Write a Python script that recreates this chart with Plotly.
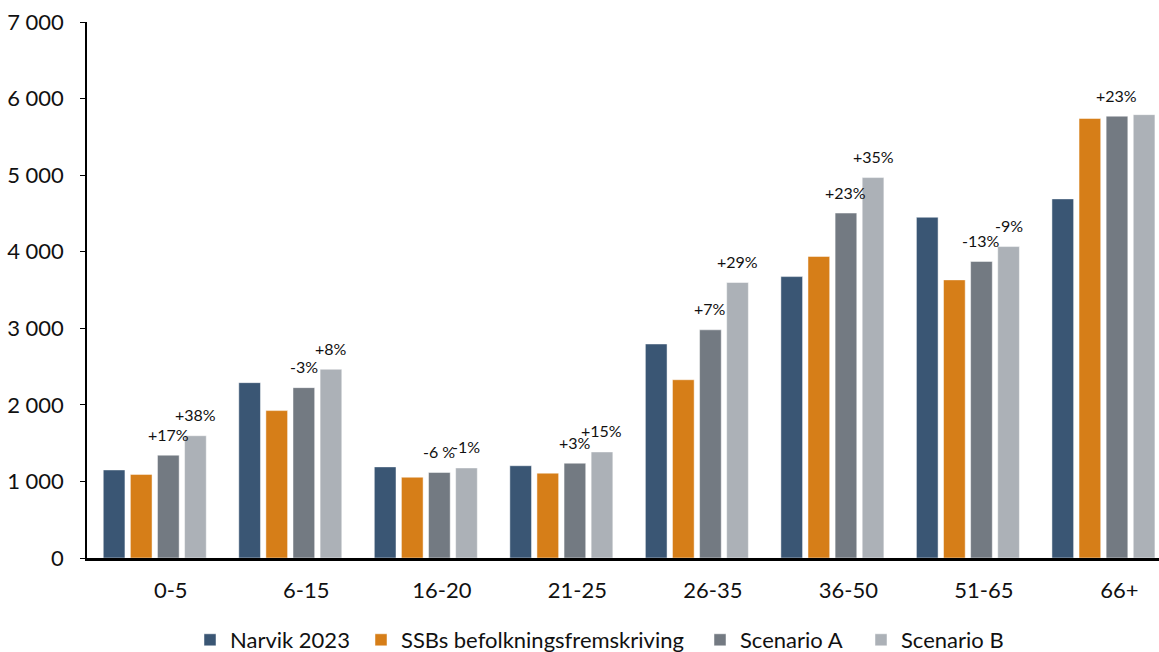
import plotly.graph_objects as go

categories = ["0-5", "6-15", "16-20", "21-25", "26-35", "36-50", "51-65", "66+"]
narvik_2023 = [1150, 2290, 1190, 1205, 2795, 3675, 4450, 4690]
ssb = [1092, 1925, 1055, 1108, 2328, 3938, 3632, 5740]
scenario_a = [1343, 2225, 1117, 1238, 2980, 4505, 3873, 5770]
scenario_b = [1597, 2465, 1176, 1385, 3598, 4968, 4067, 5790]
labels_a = ["+17%", "-3%", "-6 %", "+3%", "+7%", "+23%", "-13%", "+23%"]
labels_b = ["+38%", "+8%", "-1%", "+15%", "+29%", "+35%", "-9%", ""]
y_ticks = [0, 1000, 2000, 3000, 4000, 5000, 6000, 7000]
y_tick_text = ["0", "1 000", "2 000", "3 000", "4 000", "5 000", "6 000", "7 000"]

names = ["Narvik 2023", "SSBs befolkningsfremskriving", "Scenario A", "Scenario B"]
colors = ["#3A5674", "#D67E18", "#737A82", "#ACB1B7"]
series = [narvik_2023, ssb, scenario_a, scenario_b]
legend_ids = ["legend", "legend2", "legend3", "legend4"]

FONT = "Lato"

W, H = 1159, 652
margin = dict(l=87, r=0, t=22, b=94)
plot_w = W - margin["l"] - margin["r"]

fig = go.Figure()
for name, vals, col, lg in zip(names, series, colors, legend_ids):
    fig.add_trace(go.Bar(
        x=categories, y=vals, name=name, legend=lg,
        marker=dict(color=col, line=dict(color="rgba(255,255,255,0.6)", width=0.8)),
    ))

# annotations above scenario bars
x_lo, x_hi = -0.5, 7.41
cat_px = plot_w / (x_hi - x_lo)
bargap = 0.2
slot = cat_px * (1 - bargap) / 4
annotations = []
for idx, labs in ((2, labels_a), (3, labels_b)):
    offset = (idx - 1.5) * slot
    vals = series[idx]
    for c, v, t in zip(categories, vals, labs):
        if not t:
            continue
        annotations.append(dict(
            x=c, y=v, xref="x", yref="y", text=t, showarrow=False,
            xshift=offset, yshift=21, yanchor="middle", xanchor="center",
            font=dict(family=FONT, size=16, color="#111111"),
        ))

# legend square left edges (pixels) from the reference layout
legend_px = [204, 375, 714, 875]
legend_y_px = 640
legends = {}
for lg, px in zip(legend_ids, legend_px):
    legends[lg] = dict(
        orientation="h", xref="container", yref="container",
        x=(px - 14) / W, xanchor="left",
        y=1 - legend_y_px / H, yanchor="middle", font=dict(family=FONT, size=22),
        itemwidth=30, bgcolor="rgba(0,0,0,0)",
    )

fig.update_layout(
    width=W, height=H, margin=margin,
    paper_bgcolor="white", plot_bgcolor="white",
    barmode="group", bargap=bargap, bargroupgap=0.2,
    font=dict(family=FONT, size=22, color="#111111"),
    annotations=annotations,
    showlegend=True,
    xaxis=dict(range=[x_lo, x_hi], showline=True, linecolor="black", linewidth=2.5,
               ticks="", showgrid=False, ticklabelshift=16, ticklabelstandoff=11,
               tickfont=dict(family=FONT, size=22), automargin=False),
    yaxis=dict(range=[0, 7000], tickvals=y_ticks, ticktext=y_tick_text,
               showline=True, linecolor="black", linewidth=1.5,
               ticks="outside", ticklen=5, tickcolor="black", showgrid=False,
               zeroline=False, ticklabelstandoff=12,
               tickfont=dict(family=FONT, size=22), automargin=False),
    **legends,
)

fig.write_html("out.html", config={"displayModeBar": False},
               post_script="document.body.style.margin='0';")
